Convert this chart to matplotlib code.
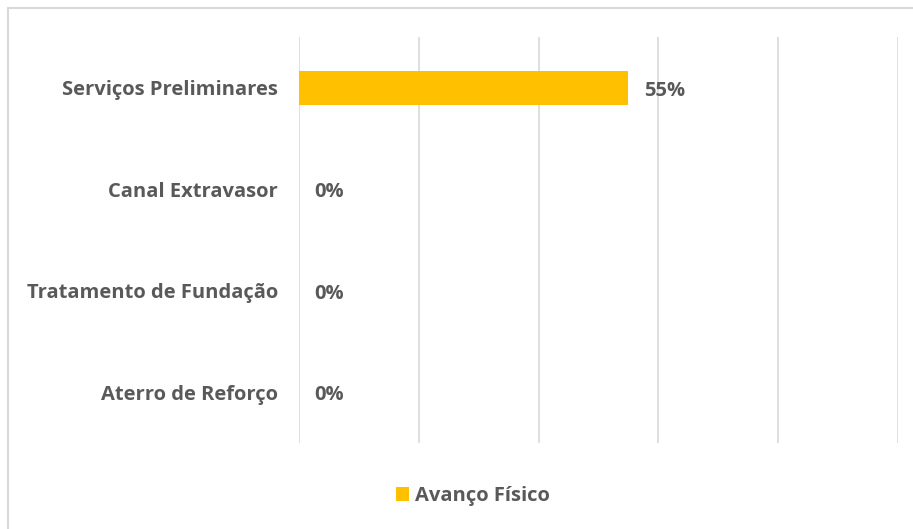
import matplotlib
matplotlib.use("Agg")
import matplotlib.pyplot as plt
from matplotlib.patches import Rectangle

categories = ["Serviços Preliminares", "Canal Extravasor", "Tratamento de Fundação", "Aterro de Reforço"]
values = [0.55, 0.0, 0.0, 0.0]
labels = ["55%", "0%", "0%", "0%"]
series_name = "Avanço Físico"

plt.rcParams['font.family'] = ['Open Sans', 'DejaVu Sans']
W, H = 913, 529
fs = 14.5
fig = plt.figure(figsize=(W/100, H/100), dpi=100)
fig.patches.append(Rectangle((8/W, -0.1), 1.2, 1 - 8/H + 0.1, transform=fig.transFigure,
                             fill=False, edgecolor='#d9d9d9', linewidth=1.5))
ax = fig.add_axes([299/W, 1 - 443/H, (898-299)/W, (443-37)/H])
y = list(range(len(categories)))
ax.barh(y, values, height=0.335, color='#ffc000', zorder=3)
ax.set_ylim(len(categories) - 0.5, -0.5)
ax.set_xlim(0, 1.0)
ax.set_xticks([0, 0.2, 0.4, 0.6, 0.8, 1.0])
ax.set_xticklabels([])
ax.tick_params(axis='x', length=0)
ax.tick_params(axis='y', length=0, pad=15)
ax.set_yticks(y)
ax.set_yticklabels(categories, fontsize=fs, fontweight='bold', color='#595959')
ax.grid(axis='x', color='#d9d9d9', linewidth=1.2, zorder=0)
for s in ax.spines.values():
    s.set_visible(False)
for yi, v, lab in zip(y, values, labels):
    ax.annotate(lab, (v, yi), xytext=(11, -2), textcoords='offset points', va='center', ha='left',
                fontsize=fs, fontweight='bold', color='#595959')
h = ax.barh([0], [0], color='#ffc000', label=series_name)
leg = fig.legend(handles=[h], labels=[series_name], loc='center', bbox_to_anchor=(473/W, 1 - 496/H),
                 frameon=False, handlelength=0.65, handleheight=0.65, handletextpad=0.3,
                 prop={'size': fs, 'weight': 'bold'})
for t in leg.get_texts():
    t.set_color('#595959')
fig.savefig("out.png", dpi=100, facecolor='white')
